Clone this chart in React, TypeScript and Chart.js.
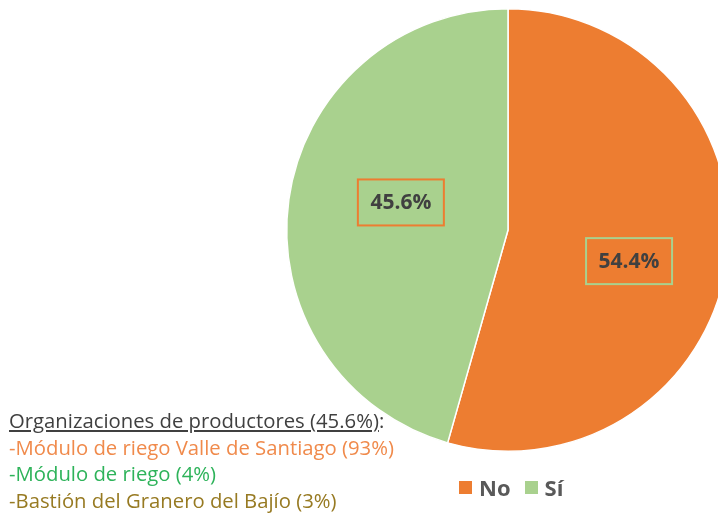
import React, { useEffect, useRef } from "react";
import { Chart, registerables } from "chart.js";

Chart.register(...registerables);

const categories = ["No", "Sí"];
const values = [54.4, 45.6];
const sliceColors = ["#ED7D31", "#A9D18E"];
const labelBorderColors = ["#A9D18E", "#ED7D31"];

const noteTitle = "Organizaciones de productores (45.6%)";
const noteLines = [
  "-Módulo de riego Valle de Santiago (93%)",
  "-Módulo de riego (4%)",
  "-Bastión del Granero del Bajío (3%)",
];
const noteColors = ["#F08A4B", "#2EB35A", "#977A22"];

const FONT = "'Open Sans', 'Noto Sans', sans-serif";

const labelPlugin = {
  id: "boxedLabels",
  afterDatasetsDraw(chart: any) {
    const ctx = chart.ctx;
    const meta = chart.getDatasetMeta(0);
    const fracs = [0.565, 0.5];
    meta.data.forEach((arc: any, i: number) => {
      const p = arc.getProps(["x", "y", "startAngle", "endAngle", "outerRadius"], true);
      const mid = (p.startAngle + p.endAngle) / 2 + (6.5 * Math.PI) / 180;
      const r = p.outerRadius * fracs[i];
      const cx = p.x + Math.cos(mid) * r;
      const cy = p.y + Math.sin(mid) * r;
      const w = 86, h = 46;
      ctx.save();
      ctx.strokeStyle = labelBorderColors[i];
      ctx.lineWidth = 2;
      ctx.strokeRect(cx - w / 2, cy - h / 2, w, h);
      ctx.fillStyle = "#404040";
      ctx.font = `bold 21px ${FONT}`;
      ctx.textAlign = "center";
      ctx.textBaseline = "middle";
      ctx.fillText(values[i].toFixed(1) + "%", cx, cy + 1);
      ctx.restore();
    });
  },
};

export default function App() {
  const ref = useRef<HTMLCanvasElement>(null);
  useEffect(() => {
    if (!ref.current) return;
    const chart = new Chart(ref.current, {
      type: "pie",
      data: {
        labels: categories,
        datasets: [
          {
            data: values,
            backgroundColor: sliceColors,
            borderColor: "#FFFFFF",
            borderWidth: 1.5,
          },
        ],
      },
      options: {
        responsive: false,
        animation: false,
        devicePixelRatio: 1,
        layout: { padding: { left: 286, right: 10, top: 8, bottom: 63 } },
        plugins: {
          legend: { display: false },
          tooltip: { enabled: false },
        },
      },
      plugins: [labelPlugin],
    });
    return () => chart.destroy();
  }, []);

  return (
    <div
      style={{
        position: "absolute",
        left: 0,
        top: 0,
        width: 718,
        height: 515,
        overflow: "hidden",
        background: "#fff",
      }}
    >
      <canvas
        ref={ref}
        width={740}
        height={515}
        style={{ position: "absolute", left: 0, top: 0, width: 740, height: 515 }}
      />
      <div
        style={{
          position: "absolute",
          left: 9,
          top: 407,
          fontFamily: FONT,
          fontSize: 20.3,
          lineHeight: "26.5px",
          whiteSpace: "nowrap",
        }}
      >
        <div style={{ color: "#404040" }}>
          <span style={{ textDecoration: "underline" }}>{noteTitle}</span>:
        </div>
        {noteLines.map((t, i) => (
          <div key={i} style={{ color: noteColors[i] }}>
            {t}
          </div>
        ))}
      </div>
      <div
        style={{
          position: "absolute",
          left: 459,
          top: 472,
          display: "flex",
          alignItems: "center",
          fontFamily: FONT,
          fontWeight: "bold",
          fontSize: 22,
          color: "#595959",
          whiteSpace: "nowrap",
        }}
      >
        {categories.map((c, i) => (
          <div key={c} style={{ display: "flex", alignItems: "center", marginRight: 14 }}>
            <span
              style={{
                display: "inline-block",
                width: 13,
                height: 13,
                background: sliceColors[i],
                marginRight: 7,
              }}
            />
            <span>{c}</span>
          </div>
        ))}
      </div>
    </div>
  );
}
